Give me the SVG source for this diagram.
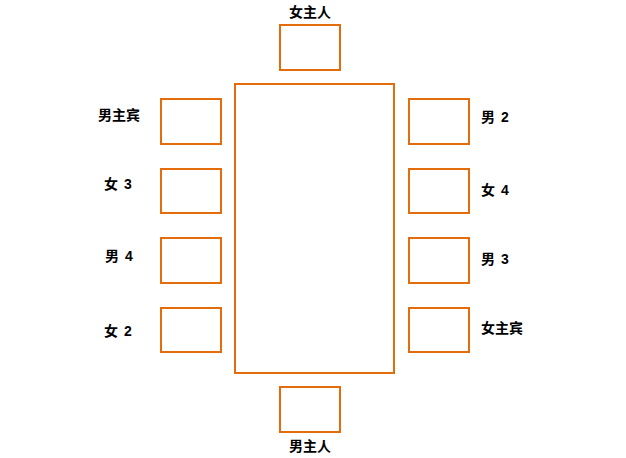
<svg xmlns="http://www.w3.org/2000/svg" width="626" height="458" viewBox="0 0 626 458">
<style>
.seat{fill:#fff;stroke:#E46C0A;stroke-width:2}
.lbl{font-family:"Liberation Sans","Noto Sans CJK SC",sans-serif;font-size:14px;font-weight:bold;fill:#000}
</style>
<rect width="626" height="458" fill="#fff"/>
<g id="table"><rect class="seat" x="235" y="84" width="159" height="289"/></g>
<g id="host-f"><rect class="seat" x="280" y="25" width="60" height="45"/><text class="lbl" x="310" y="17" text-anchor="middle">女主人</text></g>
<g id="host-m"><rect class="seat" x="280" y="387" width="60" height="45"/><text class="lbl" x="310" y="451" text-anchor="middle">男主人</text></g>
<g id="guest-m"><rect class="seat" x="161" y="99" width="60" height="45"/><text class="lbl" x="98" y="120">男主宾</text></g>
<g id="f3"><rect class="seat" x="161" y="169" width="60" height="44"/><text class="lbl" x="104" y="189">女 <tspan x="124">3</tspan></text></g>
<g id="m4"><rect class="seat" x="161" y="238" width="60" height="45"/><text class="lbl" x="105" y="261">男 <tspan x="125">4</tspan></text></g>
<g id="f2"><rect class="seat" x="161" y="308" width="60" height="44"/><text class="lbl" x="104" y="336">女 <tspan x="124">2</tspan></text></g>
<g id="m2"><rect class="seat" x="409" y="99" width="60" height="45"/><text class="lbl" x="481" y="122">男 <tspan x="501">2</tspan></text></g>
<g id="f4"><rect class="seat" x="409" y="169" width="60" height="44"/><text class="lbl" x="481" y="195">女 <tspan x="501">4</tspan></text></g>
<g id="m3"><rect class="seat" x="409" y="238" width="60" height="45"/><text class="lbl" x="481" y="264">男 <tspan x="501">3</tspan></text></g>
<g id="guest-f"><rect class="seat" x="409" y="308" width="60" height="44"/><text class="lbl" x="481" y="333">女主宾</text></g>
<g id="connectors"/>
</svg>
